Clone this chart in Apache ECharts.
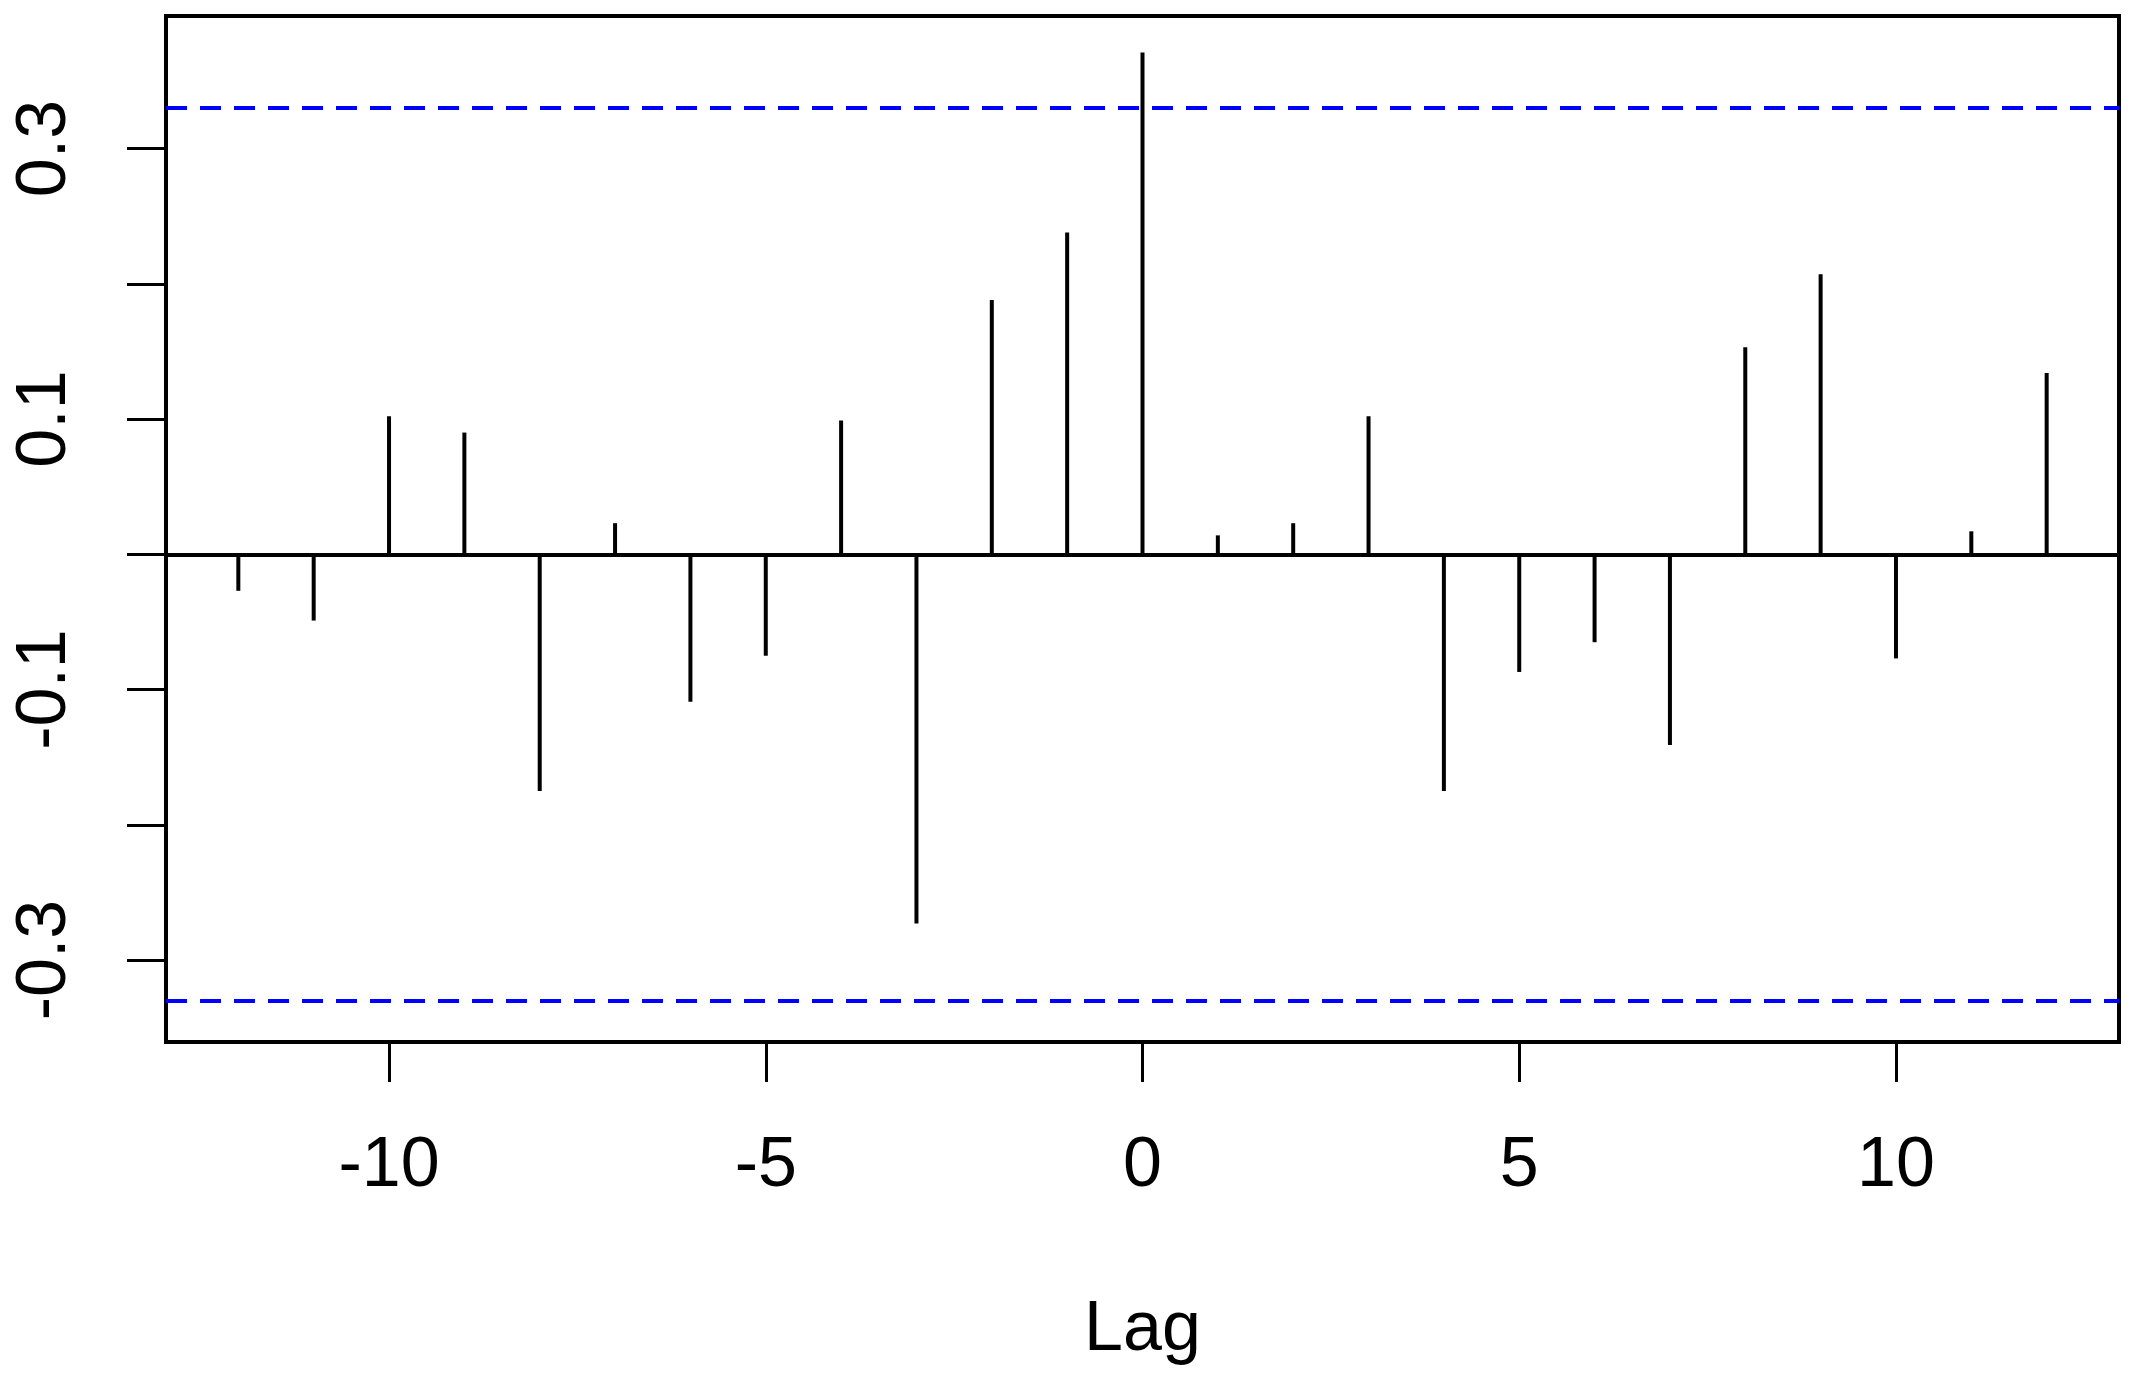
<!DOCTYPE html>
<html>
<head>
<meta charset="utf-8">
<script src="https://cdn.jsdelivr.net/npm/echarts@6/dist/echarts.min.js"></script>
<style>
html,body{margin:0;padding:0;background:#fff;}
#chart{width:2135px;height:1382px;}
</style>
</head>
<body>
<div id="chart"></div>
<script>
var lags = [-12,-11,-10,-9,-8,-7,-6,-5,-4,-3,-2,-1,0,1,2,3,4,5,6,7,8,9,10,11,12];
var ccfValues = [-0.027,-0.049,0.102,0.090,-0.175,0.023,-0.109,-0.075,0.099,-0.273,0.188,0.238,0.371,0.014,0.023,0.102,-0.175,-0.087,-0.065,-0.141,0.153,0.207,-0.077,0.017,0.134];
var ciLimit = 0.332;
var xTickValues = [-10,-5,0,5,10];
var yTickValues = [-0.3,-0.2,-0.1,0,0.1,0.2,0.3];
var yLabelValues = [-0.3,-0.1,0.1,0.3];
var xAxisTitle = 'Lag';

var FONT = '"Liberation Sans", Arial, sans-serif';
var chart = echarts.init(document.getElementById('chart'), null, {renderer:'canvas'});
var barData = lags.map(function(l,i){return [l, ccfValues[i]];});

chart.setOption({
  animation:false,
  backgroundColor:'#ffffff',
  grid:{left:166,right:16,top:16,bottom:340,show:true,borderColor:'#000',borderWidth:4,backgroundColor:'transparent'},
  xAxis:{
    type:'value', min:-12.96, max:12.96,
    axisLine:{show:false, onZero:false},
    splitLine:{show:false},
    axisTick:{show:true, customValues:xTickValues, length:40, lineStyle:{color:'#000',width:3}},
    axisLabel:{show:true, customValues:xTickValues, margin:90, color:'#000', fontSize:70, fontFamily:FONT},
    name:xAxisTitle, nameLocation:'middle', nameGap:254,
    nameTextStyle:{color:'#000', fontSize:70, fontFamily:FONT}
  },
  yAxis:{
    type:'value', min:-0.3606, max:0.398,
    axisLine:{show:false, onZero:false},
    splitLine:{show:false},
    axisTick:{show:true, customValues:yTickValues, length:39, lineStyle:{color:'#000',width:3}},
    axisLabel:{show:true, customValues:yLabelValues, rotate:90, margin:85, color:'#000', fontSize:70, fontFamily:FONT,
      formatter:function(v){return String(Math.round(v*10)/10);}}
  },
  series:[{
    type:'bar',
    data:barData,
    barWidth:4,
    itemStyle:{color:'#000'},
    silent:true,
    markLine:{
      silent:true, symbol:['none','none'], label:{show:false},
      data:[
        {yAxis:0, lineStyle:{color:'#000',width:4,type:'solid'}},
        {yAxis:ciLimit, lineStyle:{color:'#0000ff',width:4,type:[21,13]}},
        {yAxis:-ciLimit, lineStyle:{color:'#0000ff',width:4,type:[21,13]}}
      ]
    }
  }]
});
</script>
</body>
</html>
